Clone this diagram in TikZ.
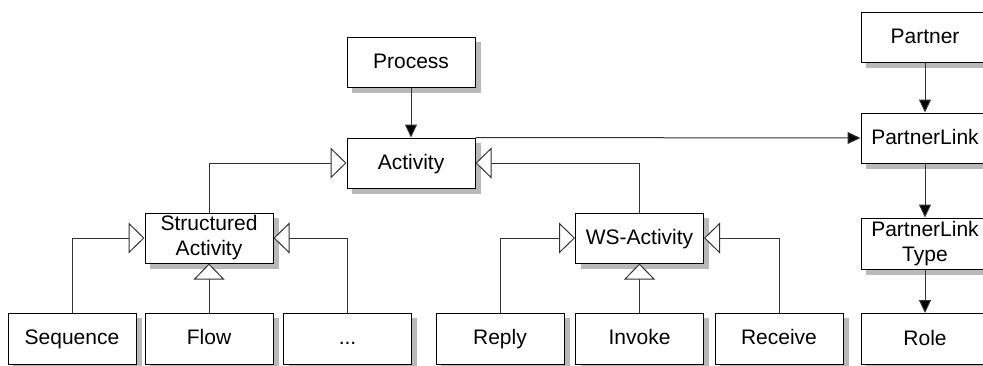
\documentclass[tikz,border=0pt]{standalone}
\usepackage{fontspec}
\setmainfont{Liberation Sans}
\usetikzlibrary{arrows.meta}
\definecolor{shadegray}{RGB}{185,185,185}
\begin{document}
\begin{tikzpicture}[x=1pt,y=-1pt,
  box/.style={draw=black, line width=1pt, fill=white, minimum width=128pt, minimum height=50pt, inner sep=0pt, align=center,
    font=\fontsize{21}{25}\selectfont},
  one/.style={text height=15pt, text depth=3pt},
  lowbox/.style={box, one, minimum height=51pt},
  shadowfill/.style={fill=shadegray, draw=none},
  assoc/.style={draw=black!80, line width=1pt, -{Triangle[length=13pt, width=12pt, fill=black]}},
  inherit/.style={draw=black!80, line width=1pt, -{Triangle[open, length=16pt, width=31pt, line width=1pt, fill=white]}}]
\useasboundingbox (0,0) rectangle (983,365);
% drop shadows (x, y, height)
\foreach \x/\y/\h in {411/62/50, 411/163/50, 209/238/50, 639.5/238/50, 925/37.5/50, 925/138/50, 925/243.5/51, 925/339/51,
  72/338.5/51, 209/338.5/51, 347.5/338.5/51, 500/338.5/51, 639.5/338.5/51, 779/338.5/51}
  \fill[shadowfill] (\x-59,\y-\h/2+5) rectangle (\x+69.5,\y+\h/2+5.5);
\node[box, one] (process) at (411,62) {Process};
\node[box, one] (activity) at (411,163) {Activity};
\node[box] (structured) at (209,238) {Structured\\Activity};
\node[box, one] (ws) at (639.5,238) {WS-Activity};
\node[box, one] (partner) at (925,37.5) {Partner};
\node[box, one] (plink) at (925,138) {PartnerLink};
\node[box, minimum height=51pt] (pltype) at (925,243.5) {PartnerLink\\Type};
\node[lowbox] (role) at (925,339) {Role};
\node[lowbox] (sequence) at (72,338.5) {Sequence};
\node[lowbox] (flow) at (209,338.5) {Flow};
\node[lowbox] (more) at (347.5,338.5) {...};
\node[lowbox] (reply) at (500,338.5) {Reply};
\node[lowbox] (invoke) at (639.5,338.5) {Invoke};
\node[lowbox] (receive) at (779,338.5) {Receive};
\draw[assoc] (process.south) -- (activity.north);
\draw[assoc] (activity.north east) -- (plink.west);
\draw[assoc] (partner.south) -- (plink.north);
\draw[assoc] (plink.south) -- (pltype.north);
\draw[assoc] (pltype.south) -- (role.north);
\draw[inherit] (structured.north) |- (activity.west);
\draw[inherit] (ws.north) |- (activity.east);
\draw[inherit] (sequence.north) |- (structured.west);
\draw[inherit] (flow.north) -- (structured.south);
\draw[inherit] (more.north) |- (structured.east);
\draw[inherit] (reply.north) |- (ws.west);
\draw[inherit] (invoke.north) -- (ws.south);
\draw[inherit] (receive.north) |- (ws.east);
\end{tikzpicture}
\end{document}
